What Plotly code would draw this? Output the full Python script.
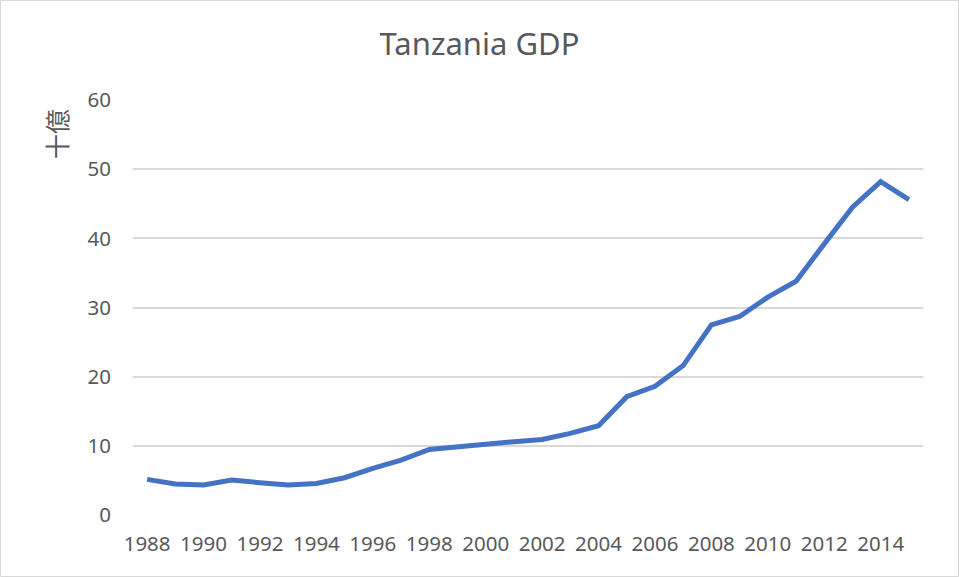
import plotly.graph_objects as go

# Tanzania GDP, billions (十億)
years = list(range(1988, 2016))
gdp = [5.15, 4.47, 4.33, 5.05, 4.67, 4.33, 4.57, 5.39, 6.74, 7.94,
       9.48, 9.87, 10.35, 10.59, 10.93, 11.8, 12.9, 17.1, 18.6, 21.6,
       27.5, 28.7, 31.5, 33.8, 39.2, 44.5, 48.2, 45.6]
y_ticks = [0, 10, 20, 30, 40, 50, 60]
x_ticks = list(range(1988, 2015, 2))

W, H = 959, 577
L, R, T, B = 133, 36, 100, 62
pw, ph = W - L - R, H - T - B

text_color = "#595959"
font_family = "Noto Sans, Open Sans, sans-serif"

fig = go.Figure(
    go.Scatter(
        x=years, y=gdp, mode="lines",
        line=dict(color="#4472C4", width=5),
        hoverinfo="x+y",
    )
)

fig.update_layout(
    width=W, height=H,
    margin=dict(l=L, r=R, t=T, b=B),
    paper_bgcolor="white", plot_bgcolor="white",
    showlegend=False,
    title=dict(
        text="Tanzania GDP", x=0.5, xanchor="center",
        y=1 - 44 / H, yanchor="middle",
        font=dict(family=font_family, size=31, color=text_color),
    ),
    font=dict(family=font_family, size=20, color=text_color),
    xaxis=dict(
        range=[1987.5, 2015.5], tickvals=x_ticks,
        ticktext=[str(v) for v in x_ticks],
        showgrid=False, zeroline=False, showline=False, ticks="",
        ticklabelstandoff=14,
        tickfont=dict(size=20.5, color=text_color),
    ),
    yaxis=dict(
        range=[0, 60], tickvals=y_ticks,
        showgrid=True, gridcolor="#D9D9D9", gridwidth=1.5,
        zeroline=False, showline=False, ticks="",
        ticklabelstandoff=21,
        tickfont=dict(size=20.5, color=text_color),
    ),
    annotations=[
        dict(
            text="十億", textangle=-90, showarrow=False,
            xref="paper", yref="paper",
            x=(56 - L) / pw, y=(H - B - 134) / ph,
            xanchor="center", yanchor="middle",
            font=dict(family="Noto Sans CJK JP, sans-serif", size=25, color=text_color),
        )
    ],
    shapes=[
        dict(
            type="rect", xref="paper", yref="paper",
            x0=(0.5 - L) / pw, x1=(W - 0.5 - L) / pw,
            y0=-(B - 0.5) / ph, y1=1 + (T - 0.5) / ph,
            line=dict(color="#D9D9D9", width=1),
            layer="below",
        )
    ],
)

fig.write_html("out.html")
